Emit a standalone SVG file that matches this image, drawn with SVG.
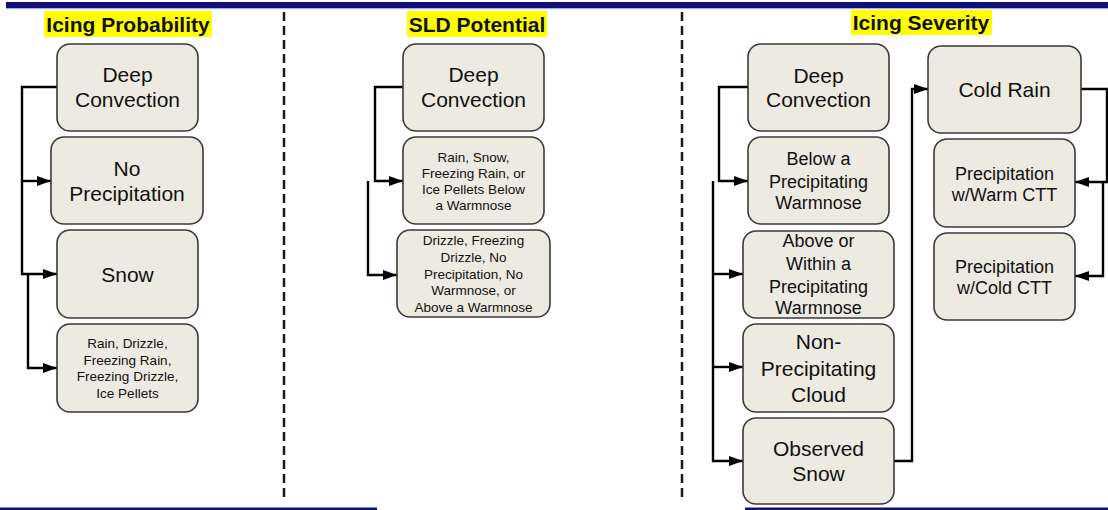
<svg xmlns="http://www.w3.org/2000/svg" width="1108" height="510" viewBox="0 0 1108 510">
  <style>
    .node rect { fill: #edeae1; stroke: #3a3a3a; stroke-width: 1.6; }
    text { font-family: "Liberation Sans", Arial, sans-serif; fill: #111; text-anchor: middle; }
    .big { font-size: 21px; }
    .mid { font-size: 18px; }
    .small { font-size: 13.5px; }
    .title { font-size: 21px; font-weight: bold; }
    .hl { fill: #ffff00; }
    .divider { stroke: #1a1a1a; stroke-width: 2.5; stroke-dasharray: 9 5; }
    .wire { fill: none; stroke: #000; stroke-width: 2.4; }
    .rule { fill: #10107a; }
  </style>
  <defs>
    <marker id="arrow" viewBox="0 0 14 10" refX="14" refY="5" markerWidth="14" markerHeight="10" markerUnits="userSpaceOnUse" orient="auto">
      <path d="M0,0 L14,5 L0,10 z" fill="#000"/>
    </marker>
  </defs>

  <!-- page rules -->
  <rect class="rule" x="6" y="2" width="1102" height="6"/>
  <rect x="6" y="8" width="1102" height="1.2" fill="#aab0dd"/>
  <rect class="rule" x="0" y="507.5" width="377" height="2.5"/>
  <rect class="rule" x="745" y="507.5" width="363" height="2.5"/>

  <!-- column dividers -->
  <line class="divider" x1="284" y1="12" x2="284" y2="502"/>
  <line class="divider" x1="682" y1="12" x2="682" y2="502"/>

  <!-- column titles -->
  <g id="title-icing-probability">
    <rect class="hl" x="44" y="11" width="168" height="26"/>
    <text class="title" x="128" y="32">Icing Probability</text>
  </g>
  <g id="title-sld-potential">
    <rect class="hl" x="407" y="11" width="140" height="26"/>
    <text class="title" x="477" y="32">SLD Potential</text>
  </g>
  <g id="title-icing-severity">
    <rect class="hl" x="851" y="10" width="141" height="25"/>
    <text class="title" x="921" y="30">Icing Severity</text>
  </g>

  <!-- connectors -->
  <g id="connectors">
    <!-- Icing Probability -->
    <path class="wire" d="M57,87 H22 V274 H57" marker-end="url(#arrow)"/>
    <path class="wire" d="M22,181 H51" marker-end="url(#arrow)"/>
    <path class="wire" d="M28,274 V368 H57" marker-end="url(#arrow)"/>
    <!-- SLD Potential -->
    <path class="wire" d="M403,87 H375 V181 H403" marker-end="url(#arrow)"/>
    <path class="wire" d="M368,181 V275 H397" marker-end="url(#arrow)"/>
    <!-- Icing Severity -->
    <path class="wire" d="M748,87 H719 V181 H748" marker-end="url(#arrow)"/>
    <path class="wire" d="M713,181 V461 H743" marker-end="url(#arrow)"/>
    <path class="wire" d="M713,274 H743" marker-end="url(#arrow)"/>
    <path class="wire" d="M713,367 H743" marker-end="url(#arrow)"/>
    <path class="wire" d="M894,461 H912 V89 H928" marker-end="url(#arrow)"/>
    <path class="wire" d="M1081,89 H1107 V182 H1075" marker-end="url(#arrow)"/>
    <path class="wire" d="M1103,182 V276 H1075" marker-end="url(#arrow)"/>
  </g>

  <!-- Icing Probability nodes -->
  <g id="ip-deep-convection" class="node">
    <rect x="57" y="44" width="141" height="87" rx="13"/>
    <text class="big" x="127.5" y="82">Deep</text>
    <text class="big" x="127.5" y="107">Convection</text>
  </g>
  <g id="ip-no-precipitation" class="node">
    <rect x="51" y="137" width="152" height="87" rx="13"/>
    <text class="big" x="127" y="176">No</text>
    <text class="big" x="127" y="201">Precipitation</text>
  </g>
  <g id="ip-snow" class="node">
    <rect x="57" y="230" width="141" height="88" rx="13"/>
    <text class="big" x="127.5" y="282">Snow</text>
  </g>
  <g id="ip-rain-drizzle" class="node">
    <rect x="57" y="324" width="141" height="88" rx="13"/>
    <text class="small" x="127.5" y="348">Rain, Drizzle,</text>
    <text class="small" x="127.5" y="365">Freezing Rain,</text>
    <text class="small" x="127.5" y="381">Freezing Drizzle,</text>
    <text class="small" x="127.5" y="398">Ice Pellets</text>
  </g>

  <!-- SLD Potential nodes -->
  <g id="sld-deep-convection" class="node">
    <rect x="403" y="44" width="141" height="87" rx="13"/>
    <text class="big" x="473.5" y="82">Deep</text>
    <text class="big" x="473.5" y="107">Convection</text>
  </g>
  <g id="sld-below-warmnose" class="node">
    <rect x="403" y="137" width="141" height="87" rx="13"/>
    <text class="small" x="473.5" y="162">Rain, Snow,</text>
    <text class="small" x="473.5" y="178">Freezing Rain, or</text>
    <text class="small" x="473.5" y="194">Ice Pellets Below</text>
    <text class="small" x="473.5" y="210">a Warmnose</text>
  </g>
  <g id="sld-drizzle-above" class="node">
    <rect x="397" y="230" width="153" height="87" rx="13"/>
    <text class="small" x="473.5" y="245">Drizzle, Freezing</text>
    <text class="small" x="473.5" y="262">Drizzle, No</text>
    <text class="small" x="473.5" y="279">Precipitation, No</text>
    <text class="small" x="473.5" y="295">Warmnose, or</text>
    <text class="small" x="473.5" y="312">Above a Warmnose</text>
  </g>

  <!-- Icing Severity nodes -->
  <g id="is-deep-convection" class="node">
    <rect x="748" y="44" width="141" height="87" rx="13"/>
    <text class="big" x="818.5" y="83">Deep</text>
    <text class="big" x="818.5" y="107">Convection</text>
  </g>
  <g id="is-below-warmnose" class="node">
    <rect x="748" y="137" width="141" height="87" rx="13"/>
    <text class="mid" x="818.5" y="165">Below a</text>
    <text class="mid" x="818.5" y="188">Precipitating</text>
    <text class="mid" x="818.5" y="209">Warmnose</text>
  </g>
  <g id="is-within-warmnose" class="node">
    <rect x="743" y="231" width="151" height="87" rx="13"/>
    <text class="mid" x="818.5" y="247">Above or</text>
    <text class="mid" x="818.5" y="270">Within a</text>
    <text class="mid" x="818.5" y="293">Precipitating</text>
    <text class="mid" x="818.5" y="314">Warmnose</text>
  </g>
  <g id="is-non-precipitating" class="node">
    <rect x="743" y="324" width="151" height="88" rx="13"/>
    <text class="big" x="818.5" y="349">Non-</text>
    <text class="big" x="818.5" y="376">Precipitating</text>
    <text class="big" x="818.5" y="402">Cloud</text>
  </g>
  <g id="is-observed-snow" class="node">
    <rect x="743" y="418" width="151" height="86" rx="13"/>
    <text class="big" x="818.5" y="456">Observed</text>
    <text class="big" x="818.5" y="481">Snow</text>
  </g>
  <g id="is-cold-rain" class="node">
    <rect x="928" y="46" width="153" height="87" rx="13"/>
    <text class="big" x="1004.5" y="97">Cold Rain</text>
  </g>
  <g id="is-warm-ctt" class="node">
    <rect x="934" y="139" width="141" height="88" rx="13"/>
    <text class="mid" x="1004.5" y="180">Precipitation</text>
    <text class="mid" x="1004.5" y="201">w/Warm CTT</text>
  </g>
  <g id="is-cold-ctt" class="node">
    <rect x="934" y="233" width="141" height="87" rx="13"/>
    <text class="mid" x="1004.5" y="273">Precipitation</text>
    <text class="mid" x="1004.5" y="294">w/Cold CTT</text>
  </g>
</svg>
